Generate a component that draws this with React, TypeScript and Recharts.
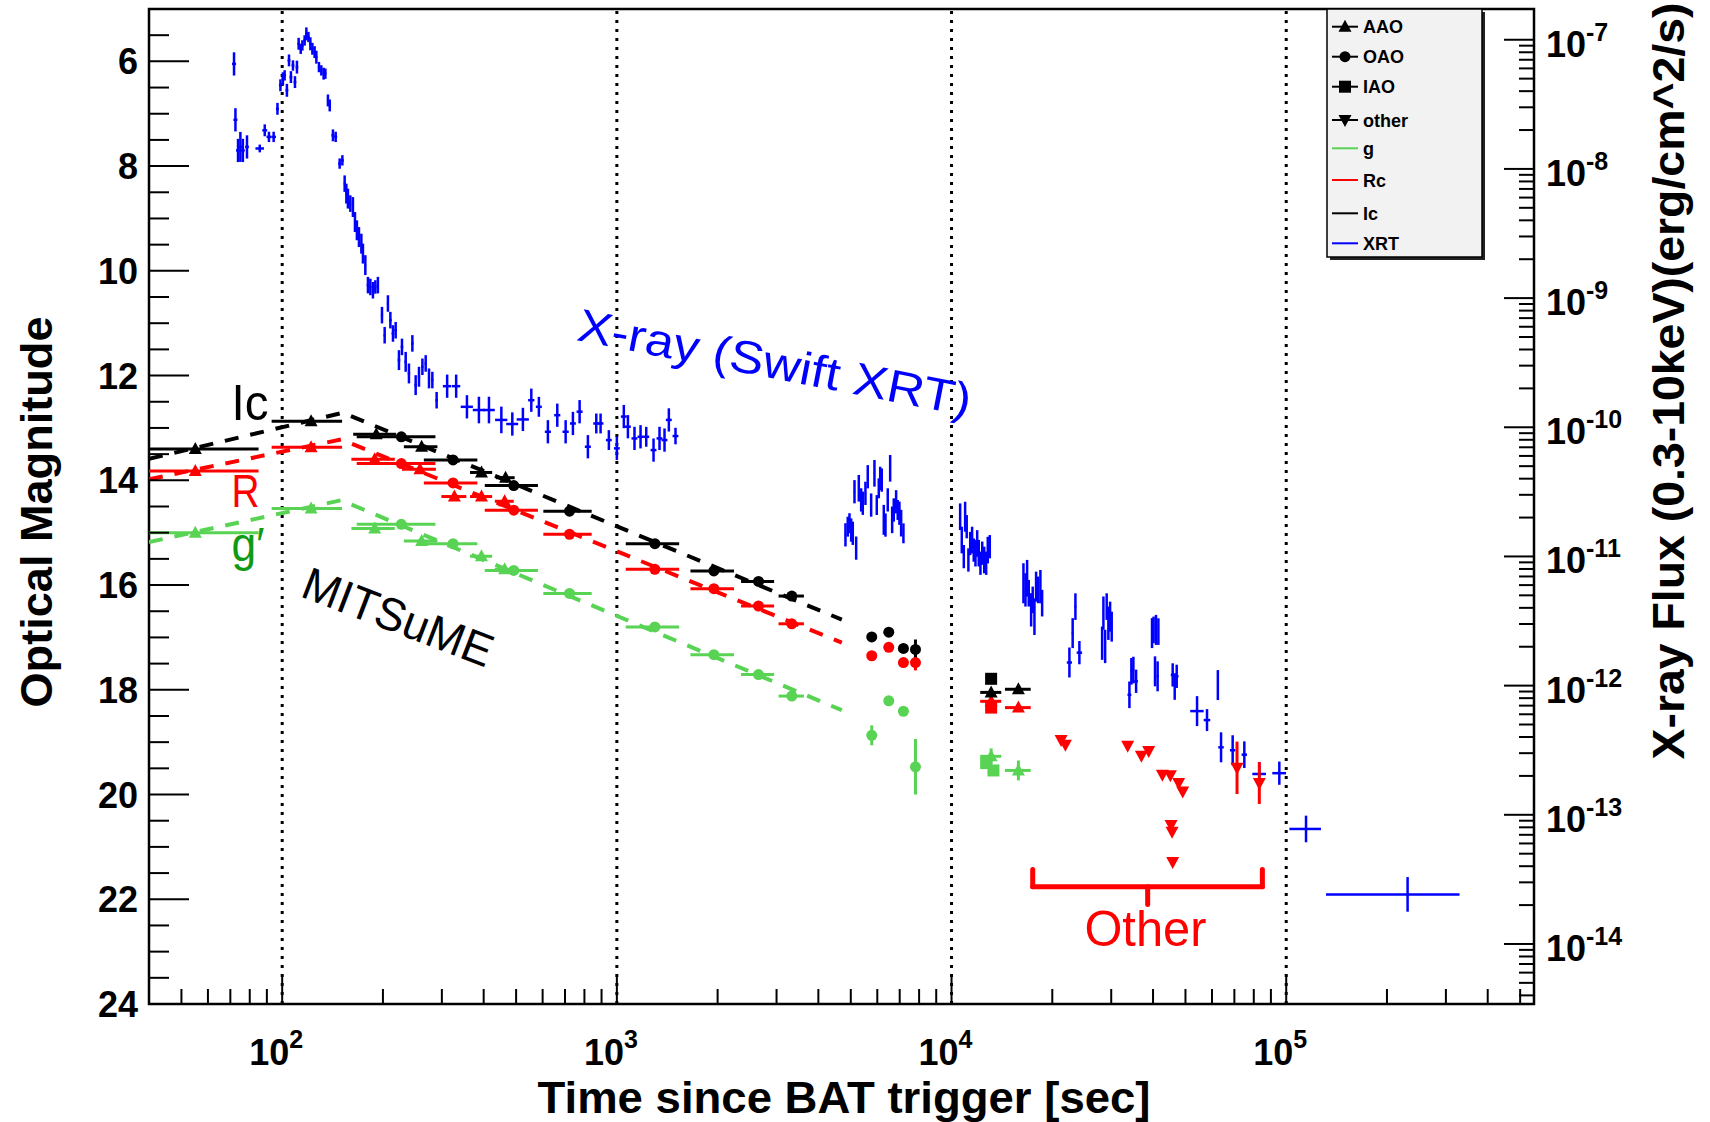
import React from "react";
import {
  ComposedChart,
  XAxis,
  YAxis,
  Scatter,
  Line,
  ErrorBar,
  ReferenceLine,
  ReferenceArea,
  ReferenceDot,
} from "recharts";

// ---- Swift XRT light curve ----
const xrayTime = [
  71.8, 72.5, 73.8, 75.0, 76.3, 78.5, 85.7, 88.7, 91.3, 94.3, 96.8, 98.8, 100.5, 101.7, 103.3, 104.8, 106.2, 107.7,
  109.2, 110.7, 112.0, 113.6, 114.9, 116.7, 118.1, 119.8, 121.4, 123.1, 125.0, 126.5, 128.8, 130.9, 133.0, 134.6,
  137.0, 138.7, 141.8, 144.5, 148.5, 151.3, 153.7, 155.5, 157.2, 159.8, 162.7, 165.0, 167.2, 169.6, 172.4, 174.3,
  177.2, 180.4, 183.4, 186.7, 189.8, 193.2, 198.7, 202.4, 207.0, 210.5, 214.3, 218.3, 223.3, 228.0, 233.9, 239.2,
  244.9, 250.5, 256.3, 262.4, 268.4, 274.6, 281.0, 289.4, 311.1, 331.0, 356.5, 387.1, 414.8, 451.7, 487.1, 523.9,
  555.1, 584.8, 622.2, 663.7, 703.0, 739.1, 773.9, 819.3, 868.0, 894.0, 946.5, 1000, 1049, 1079, 1129, 1177, 1224,
  1287, 1341, 1388, 1430, 1497,
  4820, 4896, 4955, 5013, 5069, 5188, 5129, 5283, 5370, 5430, 5530, 5619, 5752, 5884, 5979, 6062, 6121, 6188, 6274,
  6348, 6448, 6555, 6646, 6720, 6830, 6906, 6987, 7070, 7182,
  10610, 10730, 10880, 10980, 11100, 11230, 11370, 11520, 11650, 11790, 11930, 12060, 12200, 12350, 12520, 12690,
  12830, 13010,
  16400, 16630, 16820, 17010, 17290, 17480, 17690, 17890, 18140, 18430, 18650,
  22500, 23010, 23450, 24100, 28180, 28430, 28770, 29080, 29420, 29770, 30100,
  34000, 34460, 34940, 35600, 39720, 40160, 40830, 41500, 40550, 41280, 45790, 46430, 47070, 54150, 57990, 62480,
  63870, 69180, 74960, 83100, 95370, 114600, 230500,
];
const xrayTimeErr = [
  1, 1, 1, 1, 1, 1, 2.5, 1.5, 1.5, 1.5, 1, 1, 1, 1, 1, 1, 1, 1,
  1, 1, 1, 1, 1, 1, 1, 1, 1, 1, 1, 1, 1, 1, 1, 1,
  1, 1, 1.5, 1.5, 1.5, 1.5, 1, 1, 1, 1, 1, 1, 1, 1, 1, 1,
  1, 1.5, 1.5, 1.5, 1.5, 1.5, 1.5, 1.5, 1.5, 2, 2, 2, 2, 2, 2, 2,
  2, 2, 2, 2, 2, 2, 2, 2.5, 9, 9.5, 15, 16, 17, 19, 20, 22,
  12, 12, 13, 14, 15, 15, 16, 17, 18, 18, 19, 20, 21, 22, 23, 24, 25,
  26, 27, 28, 29, 30,
  25, 25, 25, 25, 25, 25, 25, 25, 25, 25, 25, 25, 25, 25, 25, 25, 25, 25, 25,
  25, 25, 25, 25, 25, 25, 25, 25, 25, 25,
  40, 40, 40, 40, 40, 40, 40, 40, 40, 40, 40, 40, 40, 40, 40, 40,
  40, 40,
  60, 60, 60, 60, 60, 60, 60, 60, 60, 60, 60,
  400, 150, 150, 450, 100, 100, 100, 100, 100, 100, 100,
  450, 200, 200, 450, 150, 150, 150, 150, 150, 300, 600, 200, 600, 2500, 1300, 300,
  1200, 1300, 1400, 3900, 4500, 12400, 99000,
];
const xrayFlux = [
  6.5e-8, 2.4e-8, 1.39e-8, 1.48e-8, 1.39e-8, 1.48e-8, 1.44e-8, 1.99e-8, 1.77e-8, 1.77e-8, 2.92e-8, 4.44e-8, 4.99e-8,
  5.3e-8, 4.06e-8, 6.92e-8, 5.14e-8, 6.32e-8, 4.7e-8, 6.14e-8, 9.31e-8, 8.51e-8, 9.04e-8, 9.88e-8, 1.11e-7, 1.05e-7,
  9.31e-8, 8.51e-8, 8.02e-8, 7.33e-8, 6.14e-8, 5.79e-8, 5.46e-8, 5.46e-8, 3.39e-8, 3.1e-8, 1.82e-8, 1.77e-8, 1.1e-8,
  1.165e-8, 7.69e-9, 6.44e-9, 5.89e-9, 5.39e-9, 5.07e-9, 3.88e-9, 3.35e-9, 2.97e-9, 2.64e-9, 2.21e-9, 1.8e-9,
  1.26e-9, 1.22e-9, 1.15e-9, 1.22e-9, 1.26e-9, 7.38e-10, 5.16e-10, 9.08e-10, 6.75e-10, 5.32e-10, 5.64e-10, 3.31e-10,
  4.19e-10, 3.21e-10, 2.61e-10, 4.46e-10, 2.12e-10, 2.46e-10, 2.94e-10, 3.12e-10, 2.39e-10, 2.32e-10, 1.62e-10,
  2.08e-10, 2.08e-10, 1.44e-10, 1.36e-10, 1.36e-10, 1.14e-10, 1.06e-10, 1.15e-10, 1.62e-10, 1.44e-10, 9.23e-11,
  1.24e-10, 9.23e-11, 1.07e-10, 1.32e-10, 7.07e-11, 1.07e-10, 1.07e-10, 7.96e-11, 6.87e-11, 1.21e-10, 1.01e-10,
  8.2e-11, 8.44e-11, 8.44e-11, 6.66e-11, 8.2e-11, 7.96e-11, 1.14e-10, 8.55e-11,
  1.47e-11, 1.7e-11, 1.81e-11, 1.6e-11, 1.51e-11, 1.16e-11, 3.17e-11, 3.37e-11, 2.74e-11, 2.58e-11, 3.08e-11,
  4.14e-11, 2.5e-11, 4.4e-11, 2.5e-11, 3.37e-11, 4.02e-11, 3.9e-11, 1.92e-11, 1.75e-11, 2.74e-11, 4.81e-11, 1.92e-11,
  2.29e-11, 2.65e-11, 2.29e-11, 2.16e-11, 1.81e-11, 1.51e-11,
  2.03e-11, 1.34e-11, 9.97e-12, 2.03e-11, 1.7e-11, 9.39e-12, 1.26e-11, 1.34e-11, 1.12e-11, 1.06e-11, 1.26e-11,
  1.06e-11, 8.86e-12, 1.06e-11, 9.39e-12, 8.86e-12, 1.12e-11, 1.19e-11,
  6.2e-12, 5.51e-12, 6.78e-12, 5.19e-12, 3.86e-12, 4.61e-12, 3.42e-12, 5.84e-12, 5.51e-12, 5.84e-12, 4.35e-12,
  1.51e-12, 2.55e-12, 4.09e-12, 1.8e-12, 2.13e-12, 3.64e-12, 2.01e-12, 4.09e-12, 3.04e-12, 3.42e-12, 2.86e-12,
  8.49e-13, 1.29e-12, 1.32e-12, 1.08e-12, 2.55e-12, 2.7e-12, 2.7e-12, 2.62e-12, 1.29e-12, 1.18e-12, 1.21e-12,
  9.84e-13, 1.18e-12, 6.35e-13, 5.41e-13, 1.01e-12, 3.33e-13, 3.16e-13, 2.92e-13, 2.07e-13, 2.1e-13, 7.77e-14,
  2.42e-14,
];
// flux error, in dex
const xrayFluxErr = [
  0.09, 0.09, 0.09, 0.116, 0.09, 0.09, 0.03, 0.046, 0.04, 0.04, 0.046, 0.046, 0.05, 0.04, 0.05, 0.046, 0.046, 0.04,
  0.046, 0.05, 0.046, 0.04, 0.04, 0.04, 0.05, 0.04, 0.05, 0.046, 0.046, 0.05, 0.04, 0.04, 0.046, 0.04,
  0.046, 0.046, 0.046, 0.04, 0.04, 0.04, 0.064, 0.077, 0.077, 0.064, 0.077, 0.077, 0.077, 0.077, 0.077, 0.077,
  0.077, 0.064, 0.064, 0.064, 0.052, 0.064, 0.064, 0.064, 0.064, 0.064, 0.064, 0.064, 0.077, 0.064, 0.077, 0.077,
  0.064, 0.077, 0.077, 0.064, 0.064, 0.077, 0.064, 0.064, 0.09, 0.09, 0.09, 0.103, 0.103, 0.103, 0.09, 0.09,
  0.09, 0.077, 0.09, 0.09, 0.09, 0.09, 0.09, 0.09, 0.077, 0.077, 0.077, 0.09, 0.09, 0.09, 0.09, 0.09, 0.077,
  0.09, 0.09, 0.09, 0.09, 0.064,
  0.09, 0.077, 0.077, 0.09, 0.09, 0.09, 0.09, 0.103, 0.09, 0.09, 0.09, 0.09, 0.09, 0.103, 0.077, 0.077, 0.09, 0.09,
  0.116, 0.09, 0.09, 0.103, 0.103, 0.09, 0.09, 0.077, 0.09, 0.103, 0.077,
  0.103, 0.103, 0.09, 0.116, 0.09, 0.09, 0.09, 0.103, 0.09, 0.103, 0.103, 0.103, 0.09, 0.09, 0.103, 0.09,
  0.103, 0.09,
  0.155, 0.129, 0.142, 0.103, 0.129, 0.103, 0.142, 0.116, 0.103, 0.129, 0.103,
  0.116, 0.116, 0.103, 0.09, 0.129, 0.129, 0.129, 0.103, 0.129, 0.116, 0.116,
  0.103, 0.103, 0.103, 0.09, 0.116, 0.103, 0.116, 0.103, 0.116, 0.116, 0.09, 0.103, 0.09, 0.116, 0.085, 0.116,
  0.116, 0.116, 0.103, 0.09, 0.09, 0.103, 0.134,
];

// ---- MITSuME / other optical photometry ----
const icTime = [55, 122, 191, 227, 261, 324, 394, 465, 492, 722, 1299, 1949, 2650, 3332, 5776, 6493, 7182, 7802, 13130, 13130, 15840];
const icTimeErr = [30, 29, 28, 60, 30, 59, 30, 30, 89, 119, 236, 290, 300, 290, 0, 0, 0, 0, 0, 950, 1400];
const icMag = [13.4, 12.87, 13.12, 13.17, 13.36, 13.61, 13.85, 13.95, 14.1, 14.59, 15.21, 15.73, 15.93, 16.21, 16.99, 16.9, 17.21, 17.23, 17.79, 18.05, 17.99];
const icMagErr = [0, 0, 0, 0, 0, 0, 0, 0, 0, 0, 0, 0, 0, 0, 0.05, 0.05, 0.05, 0.19, 0, 0.05, 0.05];
const icSite = ["AAO", "AAO", "AAO", "OAO", "AAO", "OAO", "AAO", "AAO", "OAO", "OAO", "OAO", "OAO", "OAO", "OAO", "OAO", "OAO", "OAO", "OAO", "IAO", "AAO", "AAO"];

const rcTime = [55, 122, 189, 227, 258, 324, 327, 394, 462, 492, 722, 1299, 1949, 2650, 3332, 5776, 6493, 7182, 7802, 13130, 13130, 15840];
const rcTimeErr = [30, 29, 28, 60, 30, 59, 28, 30, 30, 89, 119, 236, 290, 300, 290, 0, 0, 0, 0, 0, 950, 1400];
const rcMag = [13.82, 13.37, 13.6, 13.68, 13.79, 14.05, 14.31, 14.31, 14.4, 14.57, 15.03, 15.7, 16.07, 16.4, 16.74, 17.35, 17.19, 17.48, 17.48, 18.34, 18.22, 18.34];
const rcMagErr = [0, 0, 0, 0, 0, 0, 0, 0, 0, 0, 0, 0, 0, 0, 0, 0.05, 0.05, 0.05, 0.15, 0, 0.05, 0.05];
const rcSite = ["AAO", "AAO", "AAO", "OAO", "AAO", "OAO", "AAO", "AAO", "AAO", "OAO", "OAO", "OAO", "OAO", "OAO", "OAO", "OAO", "OAO", "OAO", "OAO", "IAO", "AAO", "AAO"];

const gTime = [55, 122, 189, 227, 261, 324, 394, 462, 492, 722, 1299, 1949, 2650, 3332, 5776, 6493, 7182, 7802, 13130, 12690, 13340, 15840];
const gTimeErr = [30, 29, 28, 60, 30, 59, 30, 30, 89, 119, 236, 290, 300, 290, 0, 0, 0, 0, 950, 0, 0, 1400];
const gMag = [15.0, 14.54, 14.92, 14.84, 15.16, 15.21, 15.45, 15.7, 15.72, 16.16, 16.8, 17.33, 17.71, 18.12, 18.87, 18.21, 18.41, 19.47, 19.27, 19.4, 19.54, 19.54];
const gMagErr = [0, 0, 0, 0, 0, 0, 0, 0, 0, 0, 0, 0, 0, 0, 0.19, 0.05, 0.05, 0.53, 0.15, 0, 0, 0.19];
const gSite = ["AAO", "AAO", "AAO", "OAO", "AAO", "OAO", "AAO", "AAO", "OAO", "OAO", "OAO", "OAO", "OAO", "OAO", "OAO", "OAO", "OAO", "OAO", "AAO", "IAO", "IAO", "AAO"];

// Rc from other telescopes (upper limits / sparse detections)
const otherTime = [21250, 21890, 33600, 36920, 38820, 42650, 45070, 47720, 49050, 45280, 45600, 45790, 71290, 83100];
const otherMag = [18.96, 19.05, 19.07, 19.26, 19.17, 19.62, 19.63, 19.78, 19.94, 20.58, 20.71, 21.29, 19.49, 19.78];
const otherMagErr = [0, 0, 0, 0, 0, 0, 0, 0, 0, 0, 0, 0, 0.5, 0.4];

// broken power-law fits (vertices)
const icModelTime = [40, 152, 4700];
const icModelMag = [13.59, 12.71, 16.66];
const rcModelTime = [40, 150, 4700];
const rcModelMag = [13.98, 13.22, 17.1];
const gModelTime = [40, 150, 4700];
const gModelMag = [15.18, 14.38, 18.39];

const decades = [100, 1000, 10000, 100000];

const W = 1710;
const H = 1122;
const T_MIN = 40;
const T_MAX = 550000;
const FONT = "'Liberation Sans', Arial, Helvetica, sans-serif";
const GREEN = "#59d354";
const RED = "#ff0000";
const BLUE = "#0000ff";

const xrayRows = xrayTime.map((t, i) => {
  const f = xrayFlux[i];
  const k = Math.pow(10, xrayFluxErr[i]);
  return { t, flux: f, tErr: xrayTimeErr[i], fErr: [f - f / k, f * k - f] };
});

// error bars are not clipped by the plot, so cut the left arm at the axis edge
function bandRows(time: number[], timeErr: number[], mag: number[], magErr: number[], site: string[], want: string) {
  return time
    .map((t, i) => ({
      t,
      mag: mag[i],
      tErr: [Math.min(timeErr[i], t - T_MIN), timeErr[i]],
      mErr: magErr[i],
      site: site[i],
    }))
    .filter((r) => r.site === want);
}

const modelRows = (time: number[], mag: number[]) => time.map((t, i) => ({ t, mag: mag[i] }));

const otherRows = otherTime.map((t, i) => ({ t, mag: otherMag[i], mErr: otherMagErr[i] }));

// tick values
const xTicks: number[] = [];
[10, 100, 1000, 10000, 100000].forEach((d) => {
  for (let k = 1; k <= 9; k++) {
    const v = k * d;
    if (v >= T_MIN && v <= T_MAX) xTicks.push(v);
  }
});
const magTicks: number[] = [];
for (let m = 5; m <= 24; m += 0.5) magTicks.push(m);
const fluxTicks: number[] = [];
for (let e = -15; e <= -7; e++) {
  for (let k = 1; k <= 9; k++) {
    const v = k * Math.pow(10, e);
    if (v >= 3.43e-15 && v <= 1.73e-7) fluxTicks.push(v);
  }
}

function marker(site: string, color: string) {
  return (p: any) => {
    const { cx, cy } = p;
    if (cx == null || cy == null) return <g />;
    if (site === "AAO")
      return <polygon points={`${cx},${cy - 7} ${cx - 6.5},${cy + 5} ${cx + 6.5},${cy + 5}`} fill={color} />;
    if (site === "OAO") return <circle cx={cx} cy={cy} r={5.5} fill={color} />;
    if (site === "IAO") return <rect x={cx - 6} y={cy - 6} width={12} height={12} fill={color} />;
    return <polygon points={`${cx},${cy + 7} ${cx - 6.5},${cy - 5} ${cx + 6.5},${cy - 5}`} fill={color} />;
  };
}

const XTick = (props: any) => {
  const { x, y, payload } = props;
  const v = payload.value;
  const e = Math.round(Math.log10(v));
  const major = Math.abs(v - Math.pow(10, e)) < 1e-6 * v;
  return (
    <g>
      <line x1={x} x2={x} y1={y} y2={y - (major ? 30 : 15)} stroke="#000" strokeWidth={2} />
      {major && (
        <text x={x - 6} y={y + 61} textAnchor="middle" fontFamily={FONT} fontWeight="bold" fontSize={36} fill="#000">
          10
          <tspan dy={-17} fontSize={25}>
            {e}
          </tspan>
        </text>
      )}
    </g>
  );
};

const MagTick = (props: any) => {
  const { x, y, payload } = props;
  const v = payload.value;
  const major = Math.abs(v / 2 - Math.round(v / 2)) < 1e-6;
  return (
    <g>
      <line x1={x} x2={x + (major ? 40 : 20)} y1={y} y2={y} stroke="#000" strokeWidth={2} />
      {major && (
        <text x={x - 11} y={y + 13} textAnchor="end" fontFamily={FONT} fontWeight="bold" fontSize={36} fill="#000">
          {v}
        </text>
      )}
    </g>
  );
};

const FluxTick = (props: any) => {
  const { x, y, payload } = props;
  const v = payload.value;
  const e = Math.floor(Math.log10(v) + 1e-9);
  const major = Math.abs(v / Math.pow(10, e) - 1) < 1e-6;
  return (
    <g>
      <line x1={x} x2={x - (major ? 30 : 15)} y1={y} y2={y} stroke="#000" strokeWidth={2} />
      {major && (
        <text x={x + 12} y={y + 17} textAnchor="start" fontFamily={FONT} fontWeight="bold" fontSize={36} fill="#000">
          10
          <tspan dy={-16} fontSize={25}>
            {e}
          </tspan>
        </text>
      )}
    </g>
  );
};

function note(text: string, color: string, size: number, opts: any = {}) {
  return (p: any) => {
    const { cx, cy } = p;
    if (cx == null) return <g />;
    const rot = opts.rotate ? `rotate(${opts.rotate} ${cx} ${cy})` : undefined;
    return (
      <text
        x={cx}
        y={cy}
        transform={rot}
        textAnchor={opts.anchor || "start"}
        dominantBaseline={opts.baseline || "alphabetic"}
        fontFamily={FONT}
        fontSize={size}
        fill={color}
        textLength={opts.len}
        lengthAdjust="spacingAndGlyphs"
      >
        {text}
      </text>
    );
  };
}

const bands = [
  { name: "g", color: GREEN, time: gTime, terr: gTimeErr, mag: gMag, merr: gMagErr, site: gSite },
  { name: "Rc", color: RED, time: rcTime, terr: rcTimeErr, mag: rcMag, merr: rcMagErr, site: rcSite },
  { name: "Ic", color: "#000", time: icTime, terr: icTimeErr, mag: icMag, merr: icMagErr, site: icSite },
];
const sites = ["AAO", "OAO", "IAO"];

const legendItems = [
  { label: "AAO", color: "#000", mark: "AAO" },
  { label: "OAO", color: "#000", mark: "OAO" },
  { label: "IAO", color: "#000", mark: "IAO" },
  { label: "other", color: "#000", mark: "other" },
  { label: "g", color: GREEN, mark: "" },
  { label: "Rc", color: RED, mark: "" },
  { label: "Ic", color: "#000", mark: "" },
  { label: "XRT", color: BLUE, mark: "" },
];
const legendRowY = [26.7, 56.7, 86.7, 120, 148.3, 180, 213.3, 243.3];

export default function App() {
  return (
    <div style={{ position: "absolute", left: 0, top: 0, width: W, height: H, background: "#fff" }}>
      <ComposedChart width={W} height={H} margin={{ top: 9, right: 0, bottom: 0, left: 0 }}>
        <XAxis
          dataKey="t"
          type="number"
          scale="log"
          domain={[T_MIN, T_MAX]}
          allowDataOverflow
          ticks={xTicks}
          interval={0}
          tick={XTick}
          tickLine={false}
          tickSize={0}
          tickMargin={0}
          axisLine={false}
          height={118}
        />
        <YAxis
          yAxisId="mag"
          dataKey="mag"
          type="number"
          domain={[5, 24]}
          reversed
          allowDataOverflow
          ticks={magTicks}
          interval={0}
          tick={MagTick}
          tickLine={false}
          tickSize={0}
          tickMargin={0}
          axisLine={false}
          width={149}
        />
        <YAxis
          yAxisId="flux"
          dataKey="flux"
          orientation="right"
          type="number"
          scale="log"
          domain={[3.43e-15, 1.73e-7]}
          allowDataOverflow
          ticks={fluxTicks}
          interval={0}
          tick={FluxTick}
          tickLine={false}
          tickSize={0}
          tickMargin={0}
          axisLine={false}
          width={176}
        />

        {decades.map((d) => (
          <ReferenceLine key={d} x={d} yAxisId="mag" stroke="#000" strokeWidth={3} strokeDasharray="3 6" />
        ))}

        <Scatter yAxisId="flux" data={xrayRows} dataKey="flux" shape={() => <g />} isAnimationActive={false}>
          <ErrorBar dataKey="fErr" direction="y" width={0} stroke={BLUE} strokeWidth={2.5} />
          <ErrorBar dataKey="tErr" direction="x" width={0} stroke={BLUE} strokeWidth={2.5} />
        </Scatter>

        <Line yAxisId="mag" data={modelRows(gModelTime, gModelMag)} dataKey="mag" type="linear" stroke={GREEN} strokeWidth={4} strokeDasharray="14 12" dot={false} isAnimationActive={false} />
        <Line yAxisId="mag" data={modelRows(rcModelTime, rcModelMag)} dataKey="mag" type="linear" stroke={RED} strokeWidth={4} strokeDasharray="14 12" dot={false} isAnimationActive={false} />
        <Line yAxisId="mag" data={modelRows(icModelTime, icModelMag)} dataKey="mag" type="linear" stroke="#000" strokeWidth={4} strokeDasharray="14 12" dot={false} isAnimationActive={false} />

        {bands.map((b) =>
          sites.map((s) => (
            <Scatter
              key={b.name + s}
              yAxisId="mag"
              data={bandRows(b.time, b.terr, b.mag, b.merr, b.site, s)}
              dataKey="mag"
              shape={marker(s, b.color)}
              isAnimationActive={false}
            >
              <ErrorBar dataKey="tErr" direction="x" width={0} stroke={b.color} strokeWidth={3} />
              <ErrorBar dataKey="mErr" direction="y" width={0} stroke={b.color} strokeWidth={3} />
            </Scatter>
          ))
        )}

        <Scatter yAxisId="mag" data={otherRows} dataKey="mag" shape={marker("other", RED)} isAnimationActive={false}>
          <ErrorBar dataKey="mErr" direction="y" width={0} stroke={RED} strokeWidth={3} />
        </Scatter>

        {/* "Other" bracket */}
        <ReferenceLine yAxisId="mag" segment={[{ x: 17480, y: 21.43 }, { x: 17480, y: 21.76 }]} stroke={RED} strokeWidth={5} strokeLinecap="round" />
        <ReferenceLine yAxisId="mag" segment={[{ x: 17480, y: 21.76 }, { x: 84870, y: 21.76 }]} stroke={RED} strokeWidth={5} strokeLinecap="round" />
        <ReferenceLine yAxisId="mag" segment={[{ x: 84870, y: 21.43 }, { x: 84870, y: 21.76 }]} stroke={RED} strokeWidth={5} strokeLinecap="round" />
        <ReferenceLine yAxisId="mag" segment={[{ x: 38550, y: 21.76 }, { x: 38550, y: 22.1 }]} stroke={RED} strokeWidth={5} strokeLinecap="round" />

        {/* annotations */}
        <ReferenceDot yAxisId="mag" x={70.6} y={12.84} r={0} shape={note("Ic", "#000", 50, { len: 37 })} />
        <ReferenceDot yAxisId="mag" x={70.6} y={14.5} r={0} shape={note("R", RED, 46, { len: 28 })} />
        <ReferenceDot yAxisId="mag" x={70.6} y={15.55} r={0} shape={note("g\u2032", "#119911", 48, { len: 33 })} />
        <ReferenceDot yAxisId="mag" x={222} y={16.61} r={0} shape={note("MITSuME", "#000", 46, { anchor: "middle", baseline: "central", rotate: 21, len: 200 })} />
        <ReferenceDot yAxisId="mag" x={2966} y={11.75} r={0} shape={note("X-ray (Swift XRT)", BLUE, 46, { anchor: "middle", baseline: "central", rotate: 11, len: 400 })} />
        <ReferenceDot yAxisId="mag" x={24950} y={22.9} r={0} shape={note("Other", RED, 50, { len: 122 })} />

        <ReferenceArea yAxisId="mag" x1={T_MIN} x2={T_MAX} y1={5} y2={24} fill="none" stroke="#000" strokeWidth={2.5} ifOverflow="visible" />
      </ComposedChart>

      <svg width={W} height={H} style={{ position: "absolute", left: 0, top: 0, pointerEvents: "none" }}>
        {/* axis titles */}
        <text x={52} y={512} transform="rotate(-90 52 512)" textAnchor="middle" fontFamily={FONT} fontWeight="bold" fontSize={45} textLength={391} lengthAdjust="spacingAndGlyphs">
          Optical Magnitude
        </text>
        <text x={844} y={1113} textAnchor="middle" fontFamily={FONT} fontWeight="bold" fontSize={44} textLength={613} lengthAdjust="spacingAndGlyphs">
          Time since BAT trigger [sec]
        </text>
        <text x={1684} y={381} transform="rotate(-90 1684 381)" textAnchor="middle" fontFamily={FONT} fontWeight="bold" fontSize={44} textLength={757} lengthAdjust="spacingAndGlyphs">
          X-ray Flux (0.3-10keV)(erg/cm^2/s)
        </text>

        {/* legend */}
        <rect x={1330} y={12} width={155} height={248} fill="#222" />
        <rect x={1327} y={9} width={155} height={248} fill="#f2f2f2" stroke="#000" strokeWidth={1.5} />
        {legendItems.map((it, i) => {
          const y = legendRowY[i];
          const cx = 1345;
          return (
            <g key={it.label}>
              <line x1={1332} x2={1358} y1={y} y2={y} stroke={it.color} strokeWidth={2} />
              {it.mark ? marker(it.mark, it.color)({ cx, cy: y }) : null}
              <text x={1363} y={y + 6.5} fontFamily={FONT} fontWeight="bold" fontSize={18} fill="#000">
                {it.label}
              </text>
            </g>
          );
        })}
      </svg>
    </div>
  );
}
